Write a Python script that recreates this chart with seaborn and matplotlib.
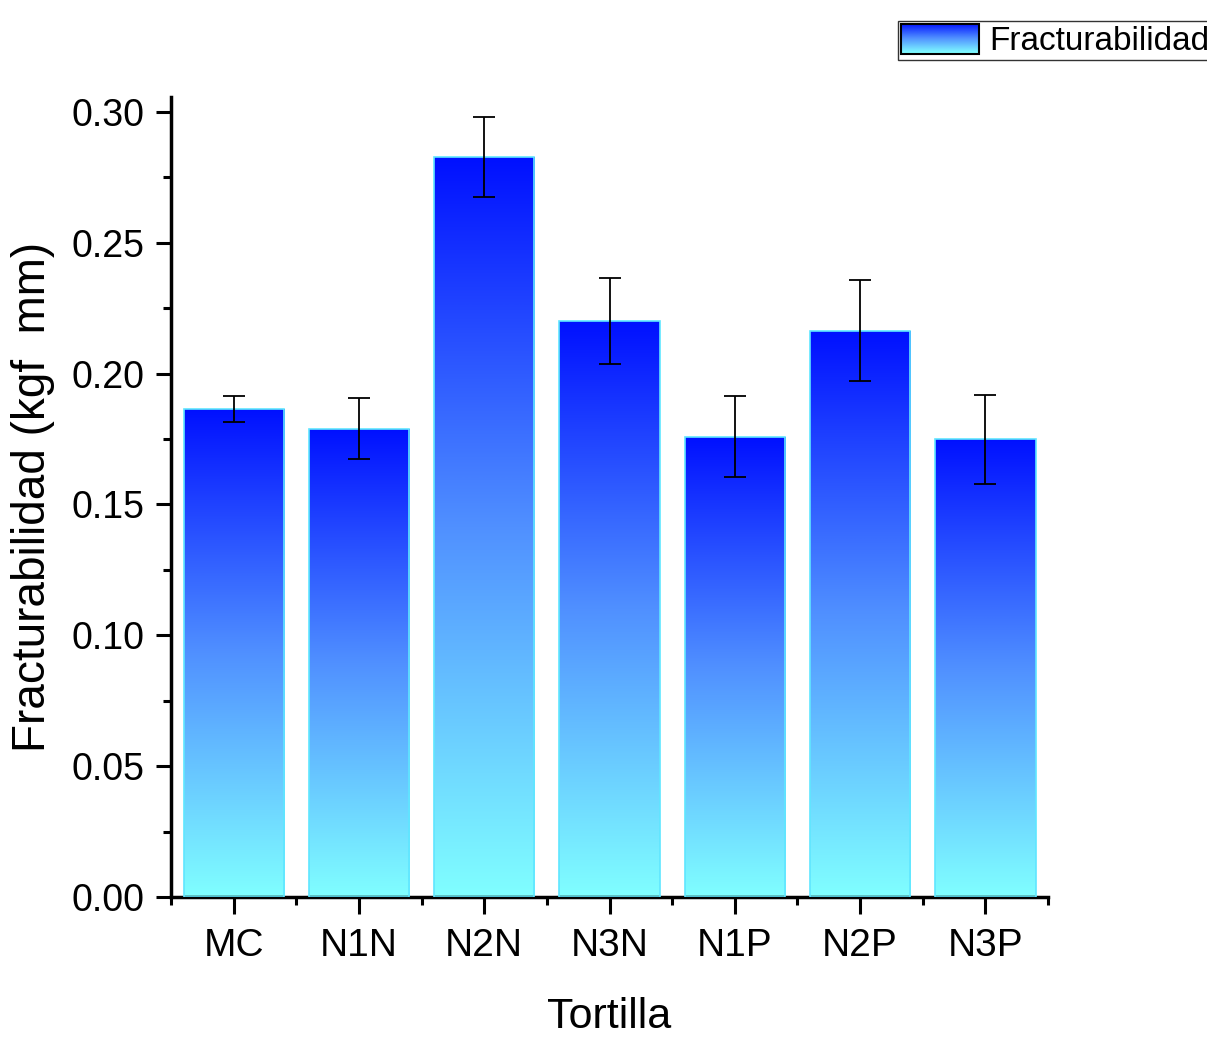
import numpy as np
import pandas as pd
import matplotlib
matplotlib.use("Agg")
import matplotlib.pyplot as plt
import seaborn as sns
from matplotlib.colors import LinearSegmentedColormap
from matplotlib.ticker import MultipleLocator, FixedLocator, FormatStrFormatter
from matplotlib.legend_handler import HandlerBase
from matplotlib.image import BboxImage
from matplotlib.transforms import Bbox, TransformedBbox
from matplotlib.patches import Rectangle, Patch

categories = ["MC", "N1N", "N2N", "N3N", "N1P", "N2P", "N3P"]
values = [0.1865, 0.179, 0.2828, 0.2201, 0.1758, 0.2163, 0.175]
errors = [0.005, 0.0115, 0.0153, 0.0166, 0.0155, 0.0193, 0.017]
series_name = "Fracturabilidad"

sns.set_theme(style="ticks")
plt.rcParams["font.family"] = ["Liberation Sans", "DejaVu Sans"]
plt.rcParams["text.color"] = "black"
plt.rcParams["axes.labelcolor"] = "black"

fig = plt.figure(figsize=(12.07, 10.38), dpi=100)
ax = fig.add_axes([0.1417, 0.1358, 0.7266, 0.7708])

df = pd.DataFrame({"Tortilla": categories, series_name: values})
sns.barplot(data=df, x="Tortilla", y=series_name, ax=ax, width=0.8,
            color="#4060ff", edgecolor="#5fe6ff", linewidth=1.2,
            errorbar=None, zorder=2)

cmap = LinearSegmentedColormap.from_list("bluecyan", ["#80ffff", "#5090ff", "#0010ff"])
grad = np.linspace(0, 1, 256).reshape(-1, 1)
for p in list(ax.patches):
    x0, y0 = p.get_x(), p.get_y()
    w, h = p.get_width(), p.get_height()
    im = ax.imshow(grad, cmap=cmap, origin="lower", extent=[x0, x0 + w, y0, y0 + h],
                   aspect="auto", zorder=2.5, interpolation="bicubic")
    im.set_clip_path(p)
    p.set_facecolor("none")
    p.set_zorder(3)

ax.errorbar(x=np.arange(len(categories)), y=values, yerr=errors, fmt="none",
            ecolor="black", elinewidth=1.3, capsize=8, capthick=1.3, zorder=4)

ax.set_xlim(-0.5, len(categories) - 0.5)
ax.set_ylim(0, 0.3057)
ax.yaxis.set_major_locator(MultipleLocator(0.05))
ax.yaxis.set_minor_locator(MultipleLocator(0.025))
ax.yaxis.set_major_formatter(FormatStrFormatter("%.2f"))
ax.xaxis.set_minor_locator(FixedLocator(np.arange(-0.5, len(categories), 1.0)))

for s in ["top", "right"]:
    ax.spines[s].set_visible(False)
for s in ["left", "bottom"]:
    ax.spines[s].set_linewidth(2.5)
    ax.spines[s].set_color("black")

ax.tick_params(axis="y", which="major", direction="out", length=11, width=2.2,
               labelsize=27, colors="black", labelcolor="black", pad=8)
ax.tick_params(axis="x", which="major", direction="out", length=12, width=2.2,
               labelsize=28, colors="black", labelcolor="black", pad=10)
ax.tick_params(axis="both", which="minor", direction="out", length=6, width=2.2, colors="black")

ax.set_xlabel("Tortilla", fontsize=31, labelpad=24, color="black")
ax.set_ylabel("Fracturabilidad (kgf  mm)", fontsize=33, labelpad=12, color="black")


class GradHandler(HandlerBase):
    def create_artists(self, legend, orig_handle, xdescent, ydescent, width, height, fontsize, trans):
        bb = Bbox.from_bounds(-xdescent, -ydescent, width, height)
        img = BboxImage(TransformedBbox(bb, trans), cmap=cmap, interpolation="bicubic", origin="lower")
        img.set_data(grad)
        rect = Rectangle((-xdescent, -ydescent), width, height, facecolor="none",
                         edgecolor="black", lw=1.5, transform=trans)
        return [img, rect]


leg = fig.legend(handles=[Patch()], labels=[series_name],
                 handler_map={Patch: GradHandler()},
                 loc="upper right", bbox_to_anchor=(1.004, 1 - 21 / 1038),
                 fontsize=24, frameon=True, fancybox=False, borderpad=0.08,
                 handlelength=2.35, handleheight=1.0, handletextpad=0.3, borderaxespad=0)
leg.get_frame().set_edgecolor("black")
leg.get_frame().set_linewidth(1.0)
for t in leg.get_texts():
    t.set_color("black")

fig.savefig("out.png", dpi=100)
